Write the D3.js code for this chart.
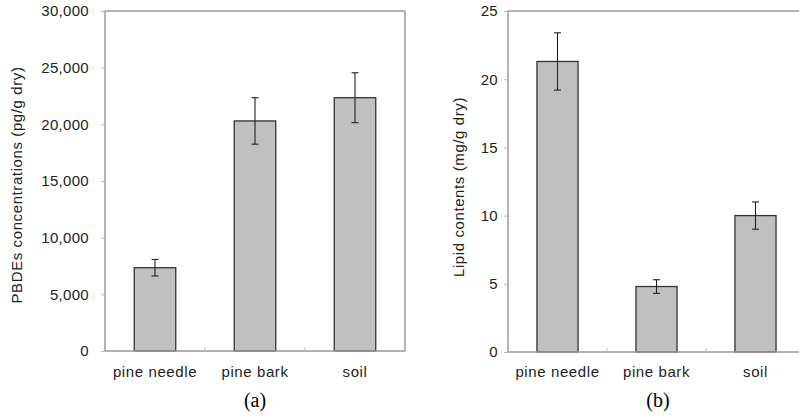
<!DOCTYPE html>
<html>
<head>
<meta charset="utf-8">
<script src="https://cdn.jsdelivr.net/npm/d3@7"></script>
<style>
  html, body { margin: 0; padding: 0; background: #fff; }
  svg { display: block; }
</style>
</head>
<body>
<svg id="chart" width="799" height="420"></svg>
<script>
// ---- data ----
const categories = ["pine needle", "pine bark", "soil"];
const pbdeValues = [7350, 20300, 22350];
const pbdeErrors = [730, 2050, 2200];
const pbdeTicks = [0, 5000, 10000, 15000, 20000, 25000, 30000];
const lipidValues = [21.3, 4.8, 10.0];
const lipidErrors = [2.1, 0.5, 1.0];
const lipidTicks = [0, 5, 10, 15, 20, 25];
const panelLabels = ["(a)", "(b)"];
const yTitles = ["PBDEs concentrations (pg/g dry)", "Lipid contents (mg/g dry)"];

const svg = d3.select("#chart");
const sans = "'Liberation Sans', Arial, sans-serif";

function panel(cfg) {
  const g = svg.append("g");
  const x = d3.scaleBand().domain(categories).range([cfg.left, cfg.right])
    .paddingInner(0.585).paddingOuter(0.2925);
  const y = d3.scaleLinear().domain([0, cfg.max]).range([cfg.bottom, cfg.top]);

  // y axis ticks + labels
  const ax = d3.axisLeft(y).tickValues(cfg.ticks).tickSize(4).tickPadding(cfg.pad)
    .tickFormat(cfg.fmt);
  const axG = g.append("g").attr("transform", `translate(${cfg.left},0)`).call(ax);
  axG.select(".domain").remove();
  axG.selectAll(".tick line").attr("stroke", "#bbb");
  axG.selectAll(".tick text").attr("fill", "#222").style("font-family", sans)
    .style("font-size", "15px").style("letter-spacing", "0.3px");

  // frame
  const frameRight = cfg.frameRight;
  g.append("line").attr("x1", cfg.left).attr("x2", frameRight)
    .attr("y1", y(cfg.max)).attr("y2", y(cfg.max)).attr("stroke", "#999").attr("stroke-width", 1.5);
  if (cfg.drawRight) {
    g.append("line").attr("x1", cfg.right).attr("x2", cfg.right)
      .attr("y1", y(cfg.max)).attr("y2", y(0)).attr("stroke", "#999").attr("stroke-width", 1.5);
  }
  g.append("line").attr("x1", cfg.left).attr("x2", cfg.left)
    .attr("y1", y(cfg.max)).attr("y2", y(0)).attr("stroke", "#999").attr("stroke-width", 1.5);

  // bars
  g.selectAll("rect.bar").data(categories).join("rect").attr("class", "bar")
    .attr("x", d => x(d)).attr("width", x.bandwidth())
    .attr("y", (d, i) => y(cfg.values[i]))
    .attr("height", (d, i) => y(0) - y(cfg.values[i]))
    .attr("fill", "#c0c0c0").attr("stroke", "#333").attr("stroke-width", 1.3);

  // baseline
  g.append("line").attr("x1", cfg.left).attr("x2", frameRight)
    .attr("y1", y(0)).attr("y2", y(0)).attr("stroke", "#999").attr("stroke-width", 1.5);

  // category dividers
  for (let i = 1; i < categories.length; i++) {
    const bx = (x(categories[i - 1]) + x.bandwidth() + x(categories[i])) / 2;
    g.append("line").attr("x1", bx).attr("x2", bx).attr("y1", y(0)).attr("y2", y(0) - 4)
      .attr("stroke", "#bbb");
  }

  // error bars
  const cap = 3.5;
  categories.forEach((c, i) => {
    const cx = x(c) + x.bandwidth() / 2;
    const hi = y(cfg.values[i] + cfg.errors[i]);
    const lo = y(cfg.values[i] - cfg.errors[i]);
    g.append("line").attr("x1", cx).attr("x2", cx).attr("y1", hi).attr("y2", lo)
      .attr("stroke", "#222").attr("stroke-width", 1.1);
    g.append("line").attr("x1", cx - cap).attr("x2", cx + cap).attr("y1", hi).attr("y2", hi)
      .attr("stroke", "#222").attr("stroke-width", 1.1);
    g.append("line").attr("x1", cx - cap).attr("x2", cx + cap).attr("y1", lo).attr("y2", lo)
      .attr("stroke", "#222").attr("stroke-width", 1.1);
  });

  // category labels
  g.selectAll("text.cat").data(categories).join("text").attr("class", "cat")
    .attr("x", d => x(d) + x.bandwidth() / 2).attr("y", 373)
    .attr("text-anchor", "middle").attr("dominant-baseline", "middle")
    .attr("fill", "#222").style("font-family", sans).style("font-size", "15px")
    .style("letter-spacing", "0.6px").text(d => d);

  // y title
  g.append("text").attr("transform", `translate(${cfg.titleX},${cfg.titleY}) rotate(-90)`)
    .attr("text-anchor", "middle").attr("dominant-baseline", "middle")
    .attr("fill", "#222").style("font-family", sans).style("font-size", "15px")
    .style("letter-spacing", "0.6px").text(cfg.title);

  // panel label
  g.append("text").attr("x", cfg.labelX).attr("y", 402)
    .attr("text-anchor", "middle").attr("dominant-baseline", "middle")
    .attr("fill", "#000").style("font-family", "'Liberation Serif', 'Times New Roman', serif")
    .style("font-size", "20px").text(cfg.label);
}

panel({
  left: 105, right: 405, frameRight: 405, drawRight: true, top: 11, bottom: 351,
  max: 30000, ticks: pbdeTicks, fmt: d3.format(","), pad: 12,
  values: pbdeValues, errors: pbdeErrors,
  title: yTitles[0], titleX: 18, titleY: 185, label: panelLabels[0], labelX: 255
});

panel({
  left: 508, right: 805, frameRight: 799, drawRight: false, top: 11, bottom: 352,
  max: 25, ticks: lipidTicks, fmt: d3.format("d"), pad: 6,
  values: lipidValues, errors: lipidErrors,
  title: yTitles[1], titleX: 460, titleY: 187, label: panelLabels[1], labelX: 658
});
</script>
</body>
</html>
